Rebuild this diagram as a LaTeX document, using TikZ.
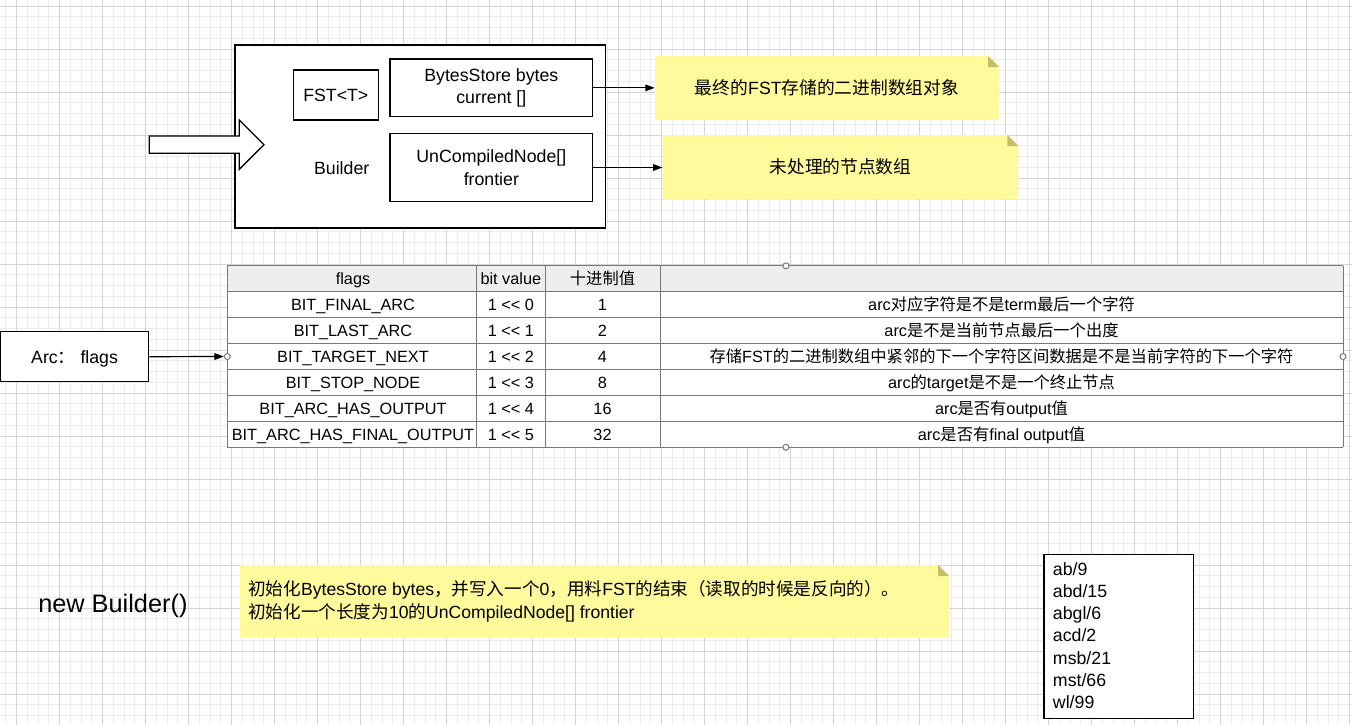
\documentclass[tikz,border=0pt]{standalone}
\usepackage{fontspec}
\setmainfont{Liberation Sans}
\newfontfamily\zhfont{Noto Sans CJK SC}
\newcommand\zh[1]{{\zhfont #1}}
\newdimen\pxu \pxu=0.75pt
\usetikzlibrary{arrows.meta}
\definecolor{notefill}{RGB}{255,250,155}
\definecolor{notefold}{RGB}{196,190,105}
\definecolor{tblline}{RGB}{120,120,120}
\definecolor{hdrfill}{RGB}{238,238,238}
\definecolor{gridminor}{RGB}{236,236,236}
\definecolor{gridmajor}{RGB}{212,212,212}
\tikzset{
  fbox/.style={draw=black, line width=1pt, fill=white, inner sep=0pt},
  f13/.style={font=\fontsize{13.3pt}{17pt}\selectfont},
  f12/.style={font=\fontsize{12.2pt}{15pt}\selectfont},
  one13/.style={f13, text height=9.6pt, text depth=0pt},
  cell/.style={f12, inner sep=0pt, text height=8.8pt, text depth=0pt},
  note/.style={inner sep=0pt, f13, text height=9.6pt, text depth=0pt,
    path picture={
      \fill[notefill] (path picture bounding box.south west) -- (path picture bounding box.north west)
        -- ([xshift=-8.25pt]path picture bounding box.north east)
        -- ([yshift=-8.25pt]path picture bounding box.north east)
        -- (path picture bounding box.south east) -- cycle;
      \fill[notefold] ([xshift=-8.25pt]path picture bounding box.north east)
        -- ([xshift=-8.25pt,yshift=-8.25pt]path picture bounding box.north east)
        -- ([yshift=-8.25pt]path picture bounding box.north east) -- cycle;
    }},
  port/.style={circle, draw=tblline, fill=white, line width=0.75pt, minimum size=6\pxu, inner sep=0pt},
  conn/.style={-{Triangle[length=7pt,width=5pt]}, line width=0.9pt},
  tline/.style={draw=tblline, line width=0.75pt},
}
\begin{document}
\begin{tikzpicture}[x=0.75pt,y=-0.75pt]
\useasboundingbox[fill=white] (0,0) rectangle (1352,725);
% grid
\foreach \i in {0,...,125} \draw[gridminor, line width=0.75pt] ({5.95+10.75*\i},0) -- ({5.95+10.75*\i},725);
\foreach \i in {0,...,67} \draw[gridminor, line width=0.75pt] (0,{6+10.75*\i}) -- (1352,{6+10.75*\i});
\foreach \i in {0,...,31} \draw[gridmajor, line width=0.75pt] ({16.7+43*\i},0) -- ({16.7+43*\i},725);
\foreach \i in {0,...,16} \draw[gridmajor, line width=0.75pt] (0,{6+43*\i}) -- (1352,{6+43*\i});

% Builder block
\node[fbox, minimum width=370.7\pxu, minimum height=183\pxu] (builder) at (420.35,136.5) {};
\node[one13] (builderlbl) at (341.7,167.7) {Builder};
\node[fbox, one13, minimum width=85\pxu, minimum height=50\pxu] (fst) at (335.8,95) {FST<T>};
\node[fbox, f13, align=center, minimum width=202.7\pxu, minimum height=57.7\pxu] (bytes) at (491.35,87.85) {BytesStore bytes\\current []};
\node[fbox, f13, align=center, minimum width=202.7\pxu, minimum height=68.4\pxu] (uncomp) at (491.35,167.5) {UnCompiledNode[]\\frontier};
% hollow arrow
\draw[line width=1pt, fill=white] (149.3,136) -- (239.3,136) -- (239.3,120) -- (264,144.7) -- (239.3,169.3) -- (239.3,153.3) -- (149.3,153.3) -- cycle;

% notes
\node[note, minimum width=344\pxu, minimum height=64\pxu] (note1) at (827,88) {\zh{最终的}FST\zh{存储的二进制数组对象}};
\node[note, minimum width=355.6\pxu, minimum height=64\pxu] (note2) at (840.5,167) {\zh{未处理的节点数组}};
\draw[conn] (bytes.east) -- (bytes.east -| note1.west);
\draw[conn] (uncomp.east) -- (uncomp.east -| note2.west);

% table
\fill[white] (227.3,265.8) rectangle (1343,447.3);
\fill[hdrfill] (227.3,265.8) rectangle (1343,291.7);
\foreach \y in {265.8,291.7,317.7,343.6,369.5,395.5,421.4,447.3} \draw[tline] (227.3,\y) -- (1343,\y);
\foreach \x in {227.3,476.7,545,660,1343} \draw[tline] (\x,265.8) -- (\x,447.3);
\node[cell] (h1) at (353,278.75) {flags};
\node[cell] (h2) at (510.85,278.75) {bit value};
\node[cell] (h3) at (602.5,278.75) {\zh{十进制值}};
\node[cell] (r1a) at (353,304.65) {BIT\_FINAL\_ARC};
\node[cell] (r1b) at (510.85,304.65) {1 <\kern0pt< 0};
\node[cell] (r1c) at (602.5,304.65) {1};
\node[cell] (r1d) at (1001.5,304.65) {arc\zh{对应字符是不是}term\zh{最后一个字符}};
\node[cell] (r2a) at (353,330.6) {BIT\_LAST\_ARC};
\node[cell] (r2b) at (510.85,330.6) {1 <\kern0pt< 1};
\node[cell] (r2c) at (602.5,330.6) {2};
\node[cell] (r2d) at (1001.5,330.6) {arc\zh{是不是当前节点最后一个出度}};
\node[cell] (r3a) at (353,356.5) {BIT\_TARGET\_NEXT};
\node[cell] (r3b) at (510.85,356.5) {1 <\kern0pt< 2};
\node[cell] (r3c) at (602.5,356.5) {4};
\node[cell] (r3d) at (1001.5,356.5) {\zh{存储}FST\zh{的二进制数组中紧邻的下一个字符区间数据是不是当前字符的下一个字符}};
\node[cell] (r4a) at (353,382.45) {BIT\_STOP\_NODE};
\node[cell] (r4b) at (510.85,382.45) {1 <\kern0pt< 3};
\node[cell] (r4c) at (602.5,382.45) {8};
\node[cell] (r4d) at (1001.5,382.45) {arc\zh{的}target\zh{是不是一个终止节点}};
\node[cell] (r5a) at (353,408.4) {BIT\_ARC\_HAS\_OUTPUT};
\node[cell] (r5b) at (510.85,408.4) {1 <\kern0pt< 4};
\node[cell] (r5c) at (602.5,408.4) {16};
\node[cell] (r5d) at (1001.5,408.4) {arc\zh{是否有}output\zh{值}};
\node[cell] (r6a) at (353,434.35) {BIT\_ARC\_HAS\_FINAL\_OUTPUT};
\node[cell] (r6b) at (510.85,434.35) {1 <\kern0pt< 5};
\node[cell] (r6c) at (602.5,434.35) {32};
\node[cell] (r6d) at (1001.5,434.35) {arc\zh{是否有}final output\zh{值}};
\node[port] (pt) at (786,265.8) {};
\node[port] (pb) at (786,447.3) {};
\node[port] (pr) at (1343,356.5) {};
\node[port] (pl) at (227.3,356.5) {};

% Arc flags
\node[fbox, one13, minimum width=148.2\pxu, minimum height=50\pxu] (arc) at (74.6,356.7) {Arc\zh{：} flags};
\draw[conn] (arc.east) -- (pl.west);

% bottom
\node[font=\fontsize{19pt}{23pt}\selectfont, anchor=base west, inner sep=0pt] (newb) at (38,612) {new Builder()};
\node[note, minimum width=709\pxu, minimum height=72.7\pxu] (note3) at (594.5,601.35) {};
\node[font=\fontsize{13.2pt}{17pt}\selectfont, align=left, anchor=base west, inner sep=0pt] (note3txt) at (248,618.2)
  {\zh{初始化}BytesStore bytes\zh{，并写入一个}0\zh{，用料}FST\zh{的结束（读取的时候是反向的）。}\\
   \zh{初始化一个长度为}10\zh{的}UnCompiledNode[] frontier};
\node[fbox, minimum width=149.3\pxu, minimum height=164\pxu] (list) at (1118.65,636.3) {};
\node[font=\fontsize{13.3pt}{16.7pt}\selectfont, align=left, anchor=base west, inner sep=0pt] (listtxt) at (1052.7,708.6)
  {ab/9\\abd/15\\abgl/6\\acd/2\\msb/21\\mst/66\\wl/99};
\end{tikzpicture}
\end{document}
